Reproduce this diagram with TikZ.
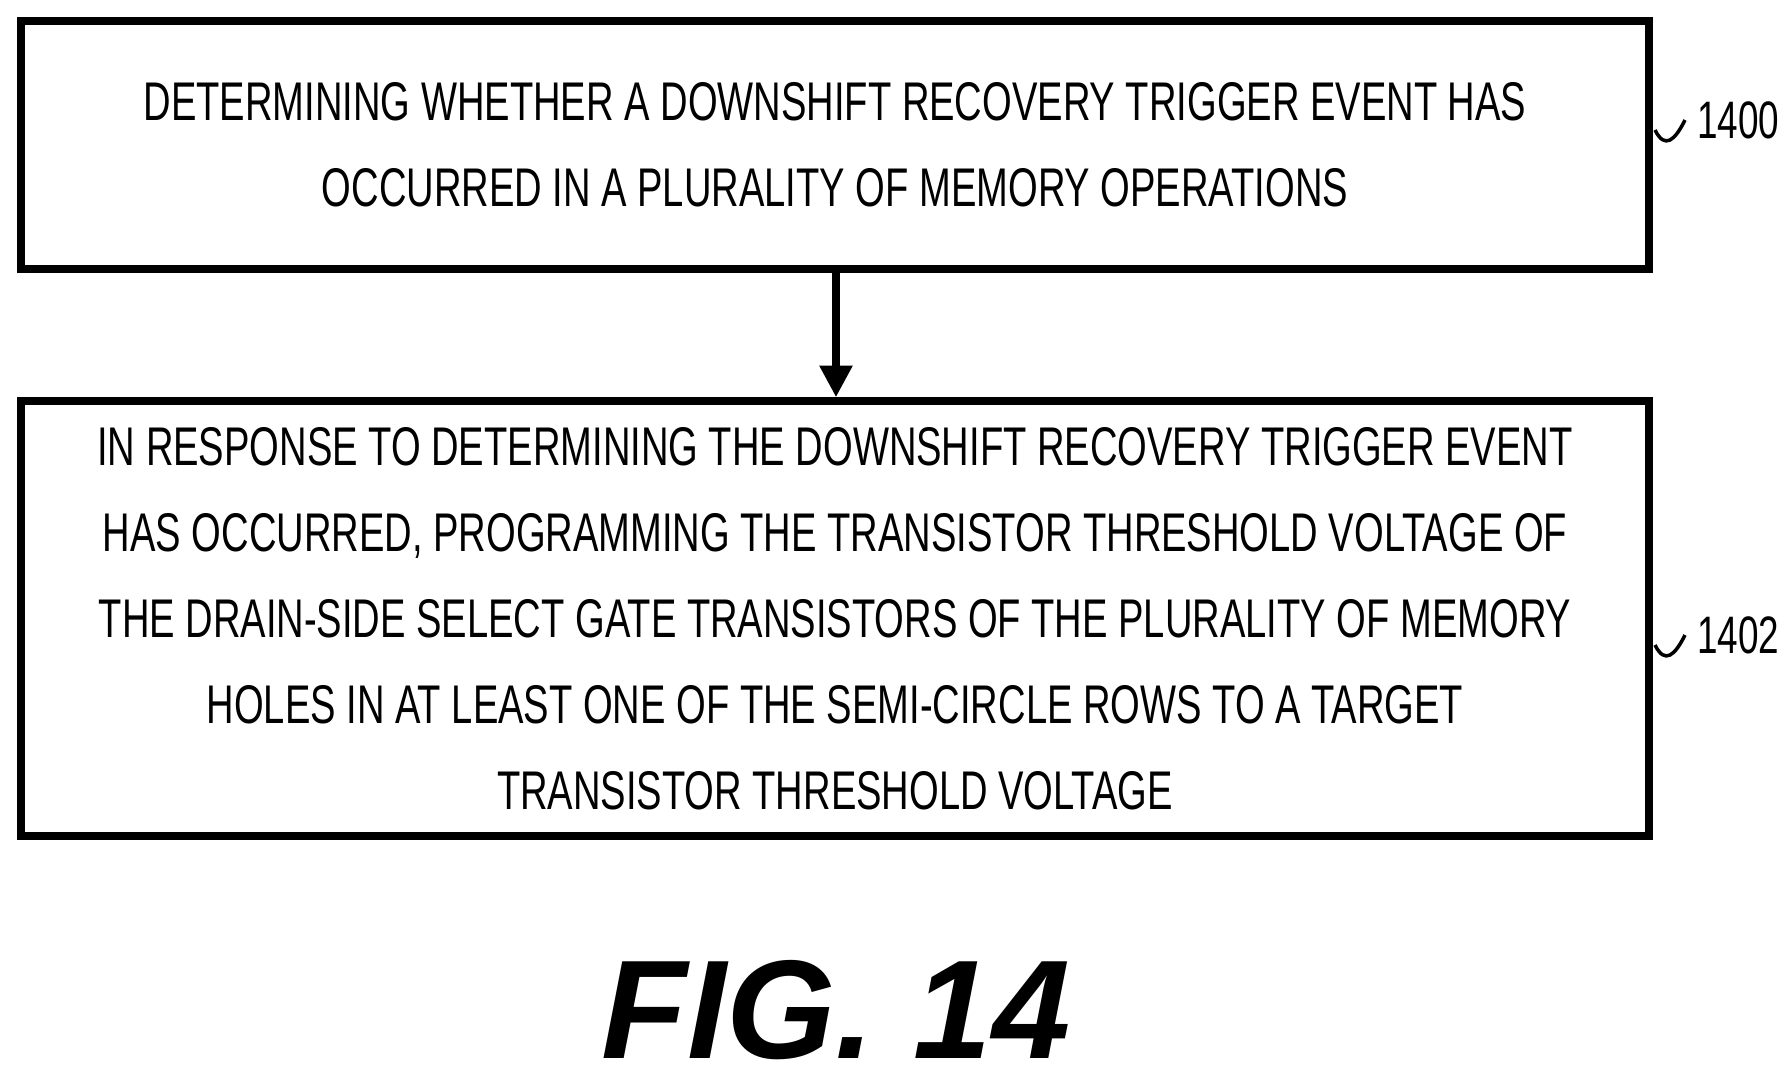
\documentclass[tikz,border=0pt]{standalone}
\usepackage{fontspec}
\setmainfont{Liberation Sans}
\newfontfamily\narrowfont[FakeStretch=0.7]{Liberation Sans}
\usetikzlibrary{positioning,arrows.meta}
\begin{document}
\begin{tikzpicture}[stepbox/.style={draw,line width=2.2pt,minimum width=16.28cm,align=center,font=\narrowfont\fontsize{15.5}{24.5}\selectfont},
                    reflabel/.style={font=\narrowfont\fontsize{15}{18}\selectfont}]
  \useasboundingbox (0,0) rectangle (17.86,-10.84);
  \node[stepbox,minimum height=2.48cm] (s1) at (8.35,-1.45) {DETERMINING WHETHER A DOWNSHIFT RECOVERY TRIGGER EVENT HAS\\OCCURRED IN A PLURALITY OF MEMORY OPERATIONS};
  \node[stepbox,minimum height=4.35cm] (s2) at (8.35,-6.185) {IN RESPONSE TO DETERMINING THE DOWNSHIFT RECOVERY TRIGGER EVENT\\HAS OCCURRED, PROGRAMMING THE TRANSISTOR THRESHOLD VOLTAGE OF\\THE DRAIN-SIDE SELECT GATE TRANSISTORS OF THE PLURALITY OF MEMORY\\HOLES IN AT LEAST ONE OF THE SEMI-CIRCLE ROWS TO A TARGET\\TRANSISTOR THRESHOLD VOLTAGE};
  \draw[line width=2pt,-{Triangle[width=9pt,length=9pt]}] (s1.south -| 8.36,0) -- (s2.north -| 8.36,0);
  \node[reflabel,anchor=west] (l1) at (16.85,-1.2) {1400};
  \node[reflabel,anchor=west] (l2) at (16.85,-6.35) {1402};
  \draw[line width=1pt] (16.55,-1.3) .. controls (16.65,-1.5) and (16.75,-1.4) .. (l1.west);
  \draw[line width=1pt] (16.55,-6.45) .. controls (16.65,-6.65) and (16.75,-6.55) .. (l2.west);
  \node[font=\bfseries\itshape\fontsize{40}{40}\selectfont] (fig) at (8.36,-10.1) {FIG. 14};
\end{tikzpicture}
\end{document}
